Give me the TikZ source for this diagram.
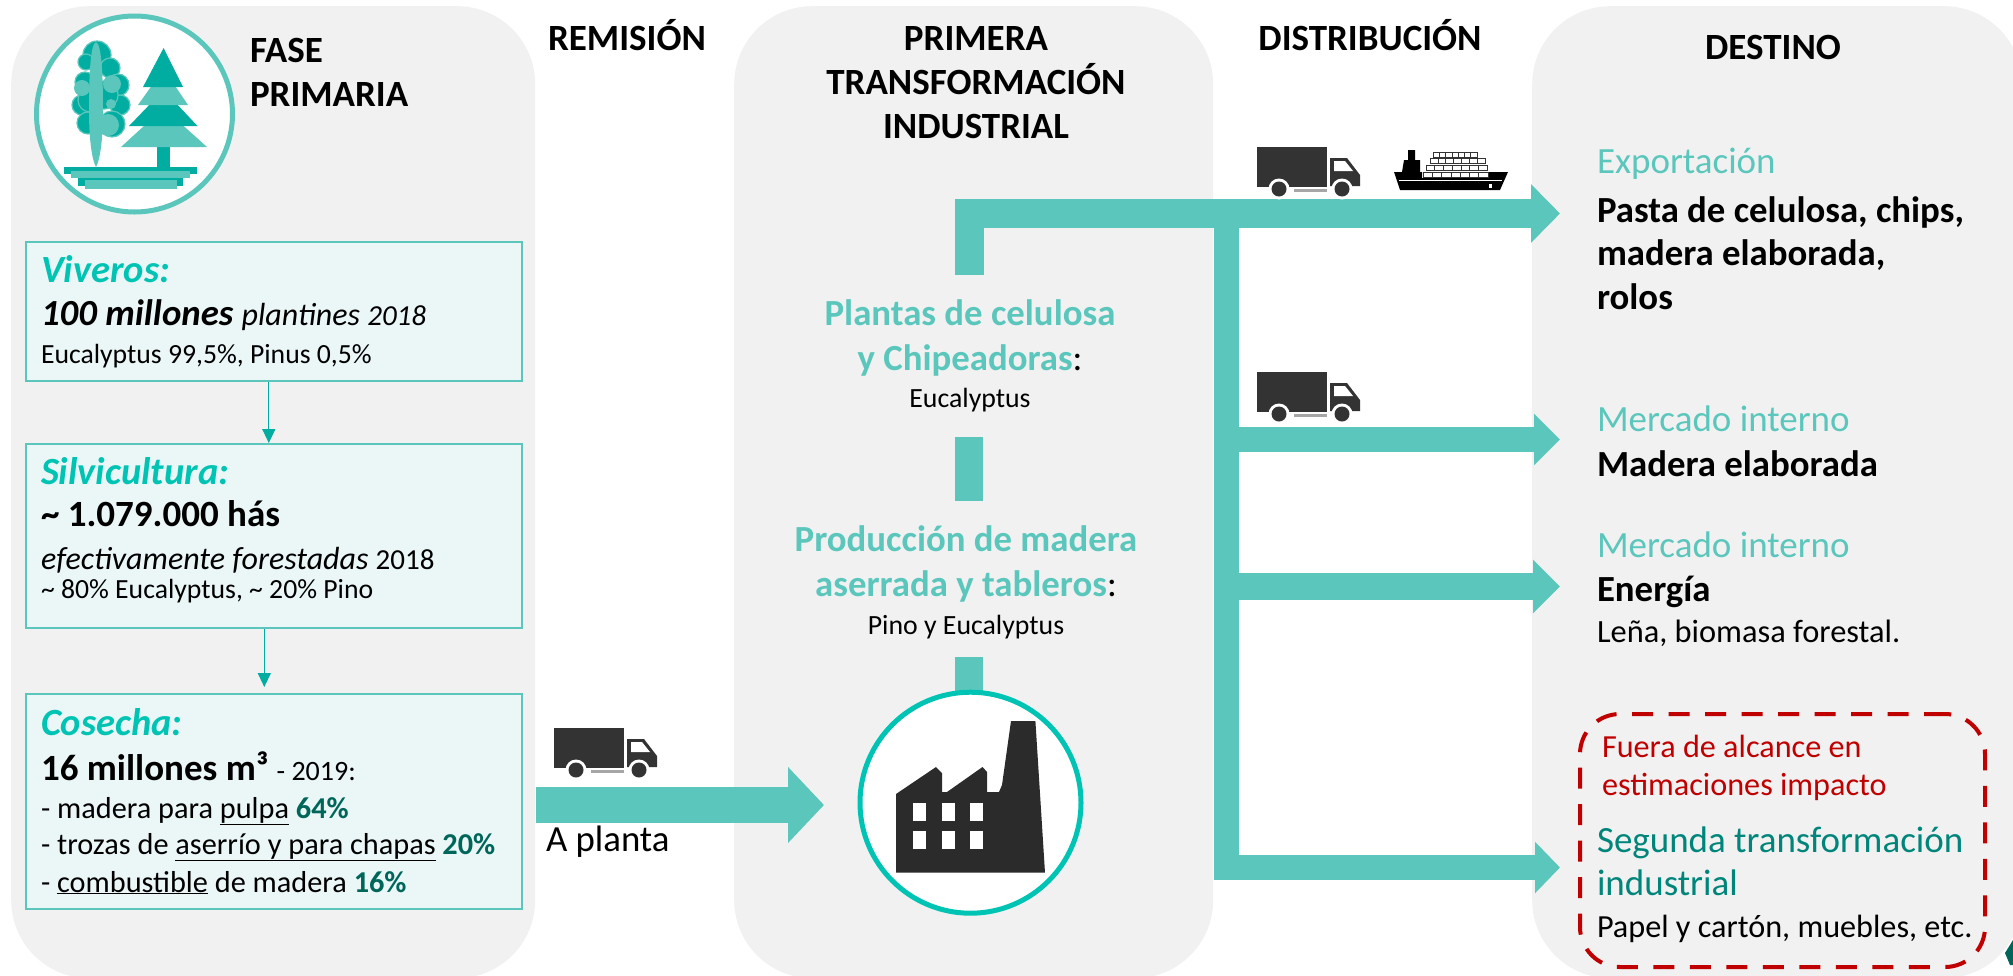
\documentclass[tikz,border=0pt]{standalone}
\usepackage{fontspec}
\setmainfont{Carlito}
\usetikzlibrary{arrows.meta}

\definecolor{panelgray}{HTML}{F1F1F1}
\definecolor{flowteal}{HTML}{5BC7BC}
\definecolor{titleteal}{HTML}{00C4B3}
\definecolor{darkteal}{HTML}{00ADA0}
\definecolor{pctgreen}{HTML}{00665A}
\definecolor{boxfill}{HTML}{EBF7F7}
\definecolor{iconblack}{HTML}{333333}
\definecolor{outred}{HTML}{C00000}
\definecolor{secondteal}{HTML}{00857A}

\newcommand{\fsz}[1]{\fontsize{#1}{#1}\selectfont}

\tikzset{
  panel/.style={fill=panelgray, rounded corners=78pt, anchor=north west, inner sep=0pt},
  infobox/.style={draw=flowteal, fill=boxfill, line width=1.6pt, anchor=north west, inner sep=0pt, minimum width=496pt},
  txt/.style={anchor=base west, inner sep=0pt, outer sep=0pt, text=black},
  ctxt/.style={anchor=base, inner sep=0pt, outer sep=0pt, text=black},
  heading/.style={ctxt, font=\fsz{37}\bfseries},
  boxtitle/.style={txt, font=\fsz{38.5}\bfseries\itshape, text=titleteal},
  smalltxt/.style={txt, font=\fsz{27.7}},
  listtxt/.style={txt, font=\fsz{30.3}},
  planttxt/.style={ctxt, font=\fsz{36.8}\bfseries, text=flowteal},
  planttype/.style={ctxt, font=\fsz{27.8}},
  desttxt/.style={txt, font=\fsz{37}, text=flowteal},
  destbold/.style={txt, font=\fsz{36.8}\bfseries},
  redtxt/.style={txt, font=\fsz{32.2}, text=outred},
  secondtxt/.style={txt, font=\fsz{37}, text=secondteal},
  thinarrow/.style={draw=darkteal, line width=1.3pt, -{Triangle[length=14pt,width=13pt]}},
  bigflow/.style={draw=flowteal, line width=#1, line join=miter},
  truck/.pic={
    \fill[iconblack] (0,0) rectangle (70,40);
    \fill[iconblack] (73,11) -- (90,11) -- (103,28) -- (103,39) -- (73,39) -- cycle;
    \fill[white] (77,14) -- (88,14) -- (96,24) -- (77,24) -- cycle;
    \fill[gray!70] (37,42) rectangle (70,45);
    \foreach \cx in {22,85} {
      \fill[white] (\cx,42) circle (10.5);
      \fill[iconblack] (\cx,42) circle (7.5);
    }
  },
  ship/.pic={
    \fill[black] (8,24) -- (10,12) -- (14,12) -- (14,2) -- (21,2) -- (21,12) -- (26,12) -- (26,24) -- cycle;
    \foreach \xa/\xb/\ya in {39/83/4, 36/91/10, 32/93/17, 29/94/24} {
      \draw[line width=0.7pt, draw=iconblack, fill=white] (\xa,\ya) rectangle (\xb,\ya+5);
      \foreach \k in {1,...,6}
        \draw[line width=0.7pt, draw=iconblack] ({\xa+\k*(\xb-\xa)/7},\ya) -- ++(0,5);
    }
    \fill[black] (0,24) -- (28,24) -- (28,30) -- (95,30) -- (95,24) -- (114,24) -- (106,42) -- (6,42) -- cycle;
    \draw[white, line width=0.8pt] (5,32) -- (108,32);
    \fill[white] (95,36) rectangle (98,40);
  }
}

\begin{document}
\begin{tikzpicture}[x=1pt, y=-1pt]
    \useasboundingbox (0,0) rectangle (2013,975);

    % background panels
    \node[panel, minimum width=524pt, minimum height=972pt] (fase) at (11,6) {};
    \node[panel, minimum width=479pt, minimum height=972pt] (planta) at (734,6) {};
    \node[panel, minimum width=490pt, minimum height=972pt] (destino) at (1532,6) {};

    % tree icon
    \node[circle, draw=flowteal, fill=white, line width=5pt, minimum size=196pt, inner sep=0pt] (treecircle) at (134.5,114) {};
    \foreach \tx/\ty/\tr in {97/55/14, 110/68/10, 118/85/11, 120/105/10, 112/124/13, 86/62/8, 85/82/10, 82/105/10, 88/123/11, 104/95/14, 90/100/12} {
      \fill[darkteal] (\tx,\ty) circle (\tr);
      \draw[flowteal, line width=1.2pt] (\tx,\ty) circle (\tr);
    }
    \foreach \tx/\ty/\tr in {112/84/9, 108/125/11, 82/88/8, 111/104/5} {
      \fill[flowteal] (\tx,\ty) circle (\tr);
    }
    \fill[flowteal] (96,42) .. controls (90,44) and (89,80) .. (89,110) .. controls (89,140) and (92,160) .. (96,167) .. controls (100,160) and (103,140) .. (103,110) .. controls (103,80) and (102,44) .. (96,42);
    \fill[darkteal] (157,147) rectangle (170,167);
    \fill[flowteal] (163.6,108) -- (207,147) -- (121,147) -- cycle;
    \fill[darkteal] (163.6,90) -- (197.5,126) -- (129,126) -- cycle;
    \fill[flowteal] (163.6,69) -- (188,105) -- (138,105) -- cycle;
    \fill[darkteal] (163.6,48) -- (183,87) -- (143,87) -- cycle;
    \fill[darkteal] (64,167) rectangle (197,174);
    \fill[flowteal] (71,171) rectangle (190,178);
    \fill[darkteal] (78,178) rectangle (183,186);
    \fill[flowteal] (85,180) rectangle (177,189);

    % first phase
    \node[txt, font=\fsz{37}\bfseries] (fasetxt) at (250,62) {FASE};
    \node[txt, font=\fsz{37}\bfseries] (primtxt) at (250,106) {PRIMARIA};

    \node[infobox, minimum height=139pt] (viveros) at (25,241) {};
    \node[infobox, minimum height=184pt] (silvi) at (25,443) {};
    \node[infobox, minimum height=215pt] (cosecha) at (25,693) {};
    \draw[thinarrow] ([xshift=-5pt]viveros.south) -- ([xshift=-5pt]silvi.north);
    \draw[thinarrow, shorten >=6pt] ([xshift=-9.5pt]silvi.south) -- ([xshift=-9.5pt]cosecha.north);

    \node[boxtitle] (vivtitle) at (41,282) {Viveros:};
    \node[txt, font=\fsz{36.8}\bfseries\itshape] (vivnum) at (41,325) {100 millones {\fsz{32}\mdseries plantines \fsz{29}2018}};
    \node[smalltxt] (vivspec) at (41,363) {Eucalyptus 99,5\%, Pinus 0,5\%};

    \node[boxtitle] (silvtitle) at (41,484) {Silvicultura:};
    \node[txt, font=\fsz{37}\bfseries] (silvnum) at (41,526) {\textasciitilde{} 1.079.000 hás};
    \node[txt, font=\fsz{32}\itshape] (silvarea) at (41,569) {efectivamente forestadas {\upshape\fsz{29}2018}};
    \node[smalltxt] (silvspec) at (41,598) {\textasciitilde{} 80\% Eucalyptus, \textasciitilde{} 20\% Pino};

    \node[boxtitle] (costitle) at (41,735) {Cosecha:};
    \node[txt, font=\fsz{37}\bfseries] (cosnum) at (41,780) {16 millones m³ {\mdseries\fsz{28}- 2019:}};
    \node[listtxt] (cospulpa) at (41,818) {- madera para \underline{pulpa} \textbf{\textcolor{pctgreen}{64\%}}};
    \node[listtxt] (cosaserr) at (41,854) {- trozas de \underline{aserrío y para chapas} \textbf{\textcolor{pctgreen}{20\%}}};
    \node[listtxt] (coscomb) at (41,892) {- \underline{combustible} de madera \textbf{\textcolor{pctgreen}{16\%}}};

    % section titles
    \node[heading] (remision) at (627,50) {REMISIÓN};
    \node[heading] (primera) at (976,50) {PRIMERA};
    \node[heading] (transf) at (976,94) {TRANSFORMACIÓN};
    \node[heading] (indus) at (976,138) {INDUSTRIAL};
    \node[heading] (distrib) at (1370,50) {DISTRIBUCIÓN};
    \node[heading] (destitle) at (1773,59) {DESTINO};

    % remision flow
    \coordinate (remstart) at (536,805);
    \coordinate (remend) at (824,805);
    \draw[bigflow=36pt, -{Triangle[length=36pt,width=74pt]}] (remstart) -- (remend);
    \pic (remtruck) at (554,728) {truck};
    \node[txt, font=\fsz{36.8}] (aplanta) at (546,851) {A planta};

    % industrial flows
    \coordinate (topstub) at (969,275);
    \coordinate (topelbow) at (969,213.5);
    \coordinate (toptip) at (1560,213.5);
    \coordinate (midtop) at (969,437);
    \coordinate (midbot) at (969,501);
    \coordinate (lowtop) at (969,657);
    \coordinate (lowbot) at (969,710);
    \draw[bigflow=29pt, -{Triangle[length=29pt,width=57pt]}] (topstub) -- (topelbow) -- (toptip);
    \draw[bigflow=28pt] (midtop) -- (midbot);
    \draw[bigflow=28pt] (lowtop) -- (lowbot);

    \coordinate (trunktop) at (1226.5,220);
    \coordinate (trunkbot) at (1226.5,867.5);
    \coordinate (branchb) at (1226.5,439.5);
    \coordinate (branchc) at (1226.5,586.5);
    \coordinate (tipb) at (1560,439.5);
    \coordinate (tipc) at (1560,586.5);
    \coordinate (tipd) at (1560,867.5);
    \draw[bigflow=25.5pt, -{Triangle[length=25pt,width=50pt]}] (trunktop) -- (trunkbot) -- (tipd);
    \draw[bigflow=25pt, -{Triangle[length=26pt,width=50pt]}] (branchb) -- (tipb);
    \draw[bigflow=27pt, -{Triangle[length=27pt,width=52pt]}] (branchc) -- (tipc);

    \pic (distruck) at (1257,147) {truck};
    \pic (disship) at (1394,148) {ship};
    \pic (mertruck) at (1257,372) {truck};

    % plants
    \node[planttxt] (plantas) at (970,325) {Plantas de celulosa};
    \node[planttxt] (chips) at (970,370) {y Chipeadoras\textcolor{black}{\mdseries:}};
    \node[planttype] (euca) at (970,407) {Eucalyptus};
    \node[planttxt] (prod) at (966,551) {Producción de madera};
    \node[planttxt] (aserr) at (966,596) {aserrada y tableros\textcolor{black}{\mdseries:}};
    \node[planttype] (pino) at (966,634) {Pino y Eucalyptus};

    % factory icon
    \node[circle, draw=titleteal, fill=white, line width=5pt, minimum size=221pt, inner sep=0pt] (factory) at (970.5,802.7) {};
    \fill[iconblack!85!black] (896,794) -- (936,767) -- (942,773) -- (942,792) -- (947,792) -- (982.5,767) -- (987,772) -- (987,792) -- (999,792) -- (1002,785) -- (1011,721) -- (1035.4,721) -- (1045,872.7) -- (896,872.7) -- cycle;
    \foreach \wx in {913,942,970} {
      \foreach \wy in {802.7,831} {
        \fill[white] (\wx,\wy) rectangle +(12.5,18);
      }
    }

    % destinations
    \node[desttxt] (export) at (1597,173) {Exportación};
    \node[destbold] (pasta) at (1597,222) {Pasta de celulosa, chips,};
    \node[destbold] (elab) at (1597,265) {madera elaborada,};
    \node[destbold] (rolos) at (1597,309) {rolos};
    \node[desttxt] (interno) at (1597,431) {Mercado interno};
    \node[destbold] (madelab) at (1597,476) {Madera elaborada};
    \node[desttxt] (internob) at (1597,557) {Mercado interno};
    \node[destbold] (energia) at (1597,601) {Energía};
    \node[txt, font=\fsz{32.4}] (lena) at (1597,642) {Leña, biomasa forestal.};

    \node[draw=outred, line width=4pt, dash pattern=on 21pt off 15.5pt, rounded corners=40pt, anchor=north west, minimum width=405pt, minimum height=253pt, inner sep=0pt] (fuera) at (1578,712) {};
    \node[redtxt] (fueratxt) at (1602,757) {Fuera de alcance en};
    \node[redtxt] (estim) at (1602,795) {estimaciones impacto};
    \node[secondtxt] (segunda) at (1597,852) {Segunda transformación};
    \node[secondtxt] (indtxt) at (1597,895) {industrial};
    \node[txt, font=\fsz{32.2}] (papel) at (1597,937) {Papel y cartón, muebles, etc.};

    % corner mark
    \fill[pctgreen] (2013,940) -- (2005,953) -- (2010,965) -- (2013,965) -- cycle;
\end{tikzpicture}
\end{document}
